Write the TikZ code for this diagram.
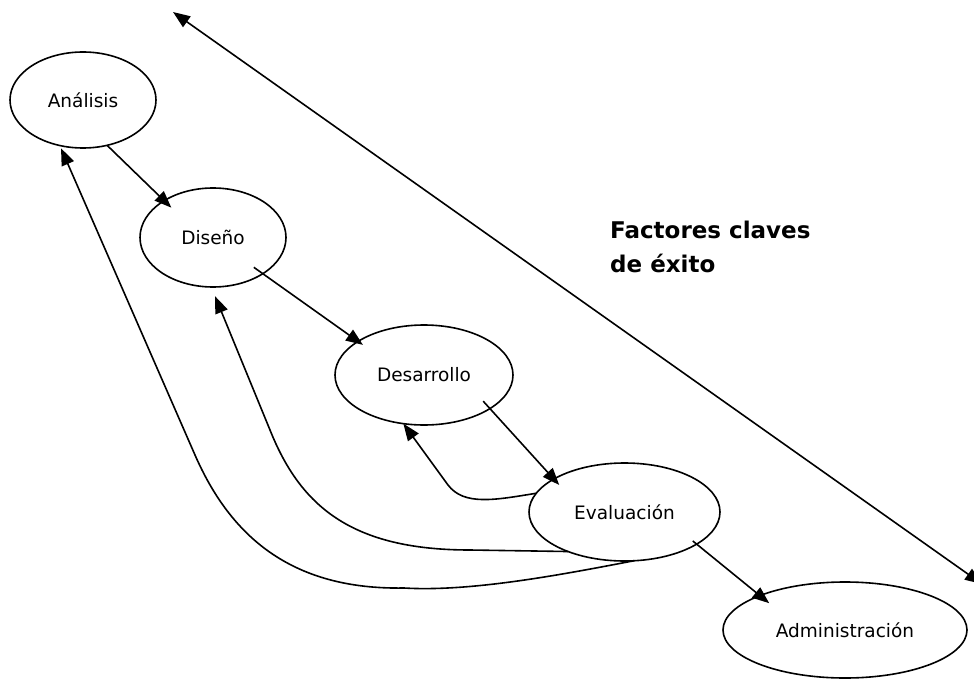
\documentclass[tikz,border=0pt]{standalone}
\usepackage{fontspec}
\setmainfont{DejaVu Sans}
\usetikzlibrary{shapes.geometric,arrows.meta}
\begin{document}
\begin{tikzpicture}[x=1pt,y=-1pt,
  phase/.style={ellipse,draw,line width=1.6pt,inner sep=0pt,outer sep=0pt,
    font=\fontsize{18.5}{22}\selectfont},
  arr/.style={line width=1.6pt,-{Triangle[length=17pt,width=13pt]}},
  dblarr/.style={line width=1.6pt,{Triangle[length=17pt,width=13pt]}-{Triangle[length=17pt,width=13pt]}},
  keylabel/.style={font=\bfseries\fontsize{23}{34}\selectfont,align=left,anchor=north west,inner sep=0pt}
]
\useasboundingbox (0,0) rectangle (974,679);

\node[phase,minimum width=146pt,minimum height=96pt] (ana) at (83,100) {Análisis};
\node[phase,minimum width=146pt,minimum height=99pt] (dis) at (213,237.5) {Diseño};
\node[phase,minimum width=178pt,minimum height=100pt] (des) at (424,375) {Desarrollo};
\node[phase,minimum width=191pt,minimum height=98pt] (eva) at (624.5,512) {Evaluación};
\node[phase,minimum width=244pt,minimum height=96pt] (adm) at (845,630) {Administración};

\node[keylabel] (kf) at (610,221) {Factores claves\\de éxito};

\coordinate (ftop) at (173,12);
\coordinate (fbot) at (982,584);
\draw[dblarr] (ftop) -- (fbot);

% forward arrows
\draw[arr,shorten >=-10pt] (ana.-62) -- (dis.143);
\draw[arr,shorten <=-11pt,shorten >=-6pt] (dis.-36) -- (des.153);
\draw[arr,shorten <=-10pt,shorten >=-8pt] (des.-27) -- (eva.155);
\draw[arr,shorten <=-5pt,shorten >=-12pt] (eva.-24) -- (adm.158);

% feedback arrows
\draw[arr] (eva.168) .. controls (495,500) and (464,506) .. (448,485) -- (des.-113);
\draw[arr,shorten >=10pt] (eva.-145) -- (470,550) .. controls (350,550) and (300,505) .. (270,430) -- (dis.-92);
\draw[arr,shorten >=3pt] (eva.-79) .. controls (560,575) and (470,592) .. (404,588)
   .. controls (290,590) and (230,535) .. (195,455) -- (ana.-117);
\end{tikzpicture}
\end{document}
